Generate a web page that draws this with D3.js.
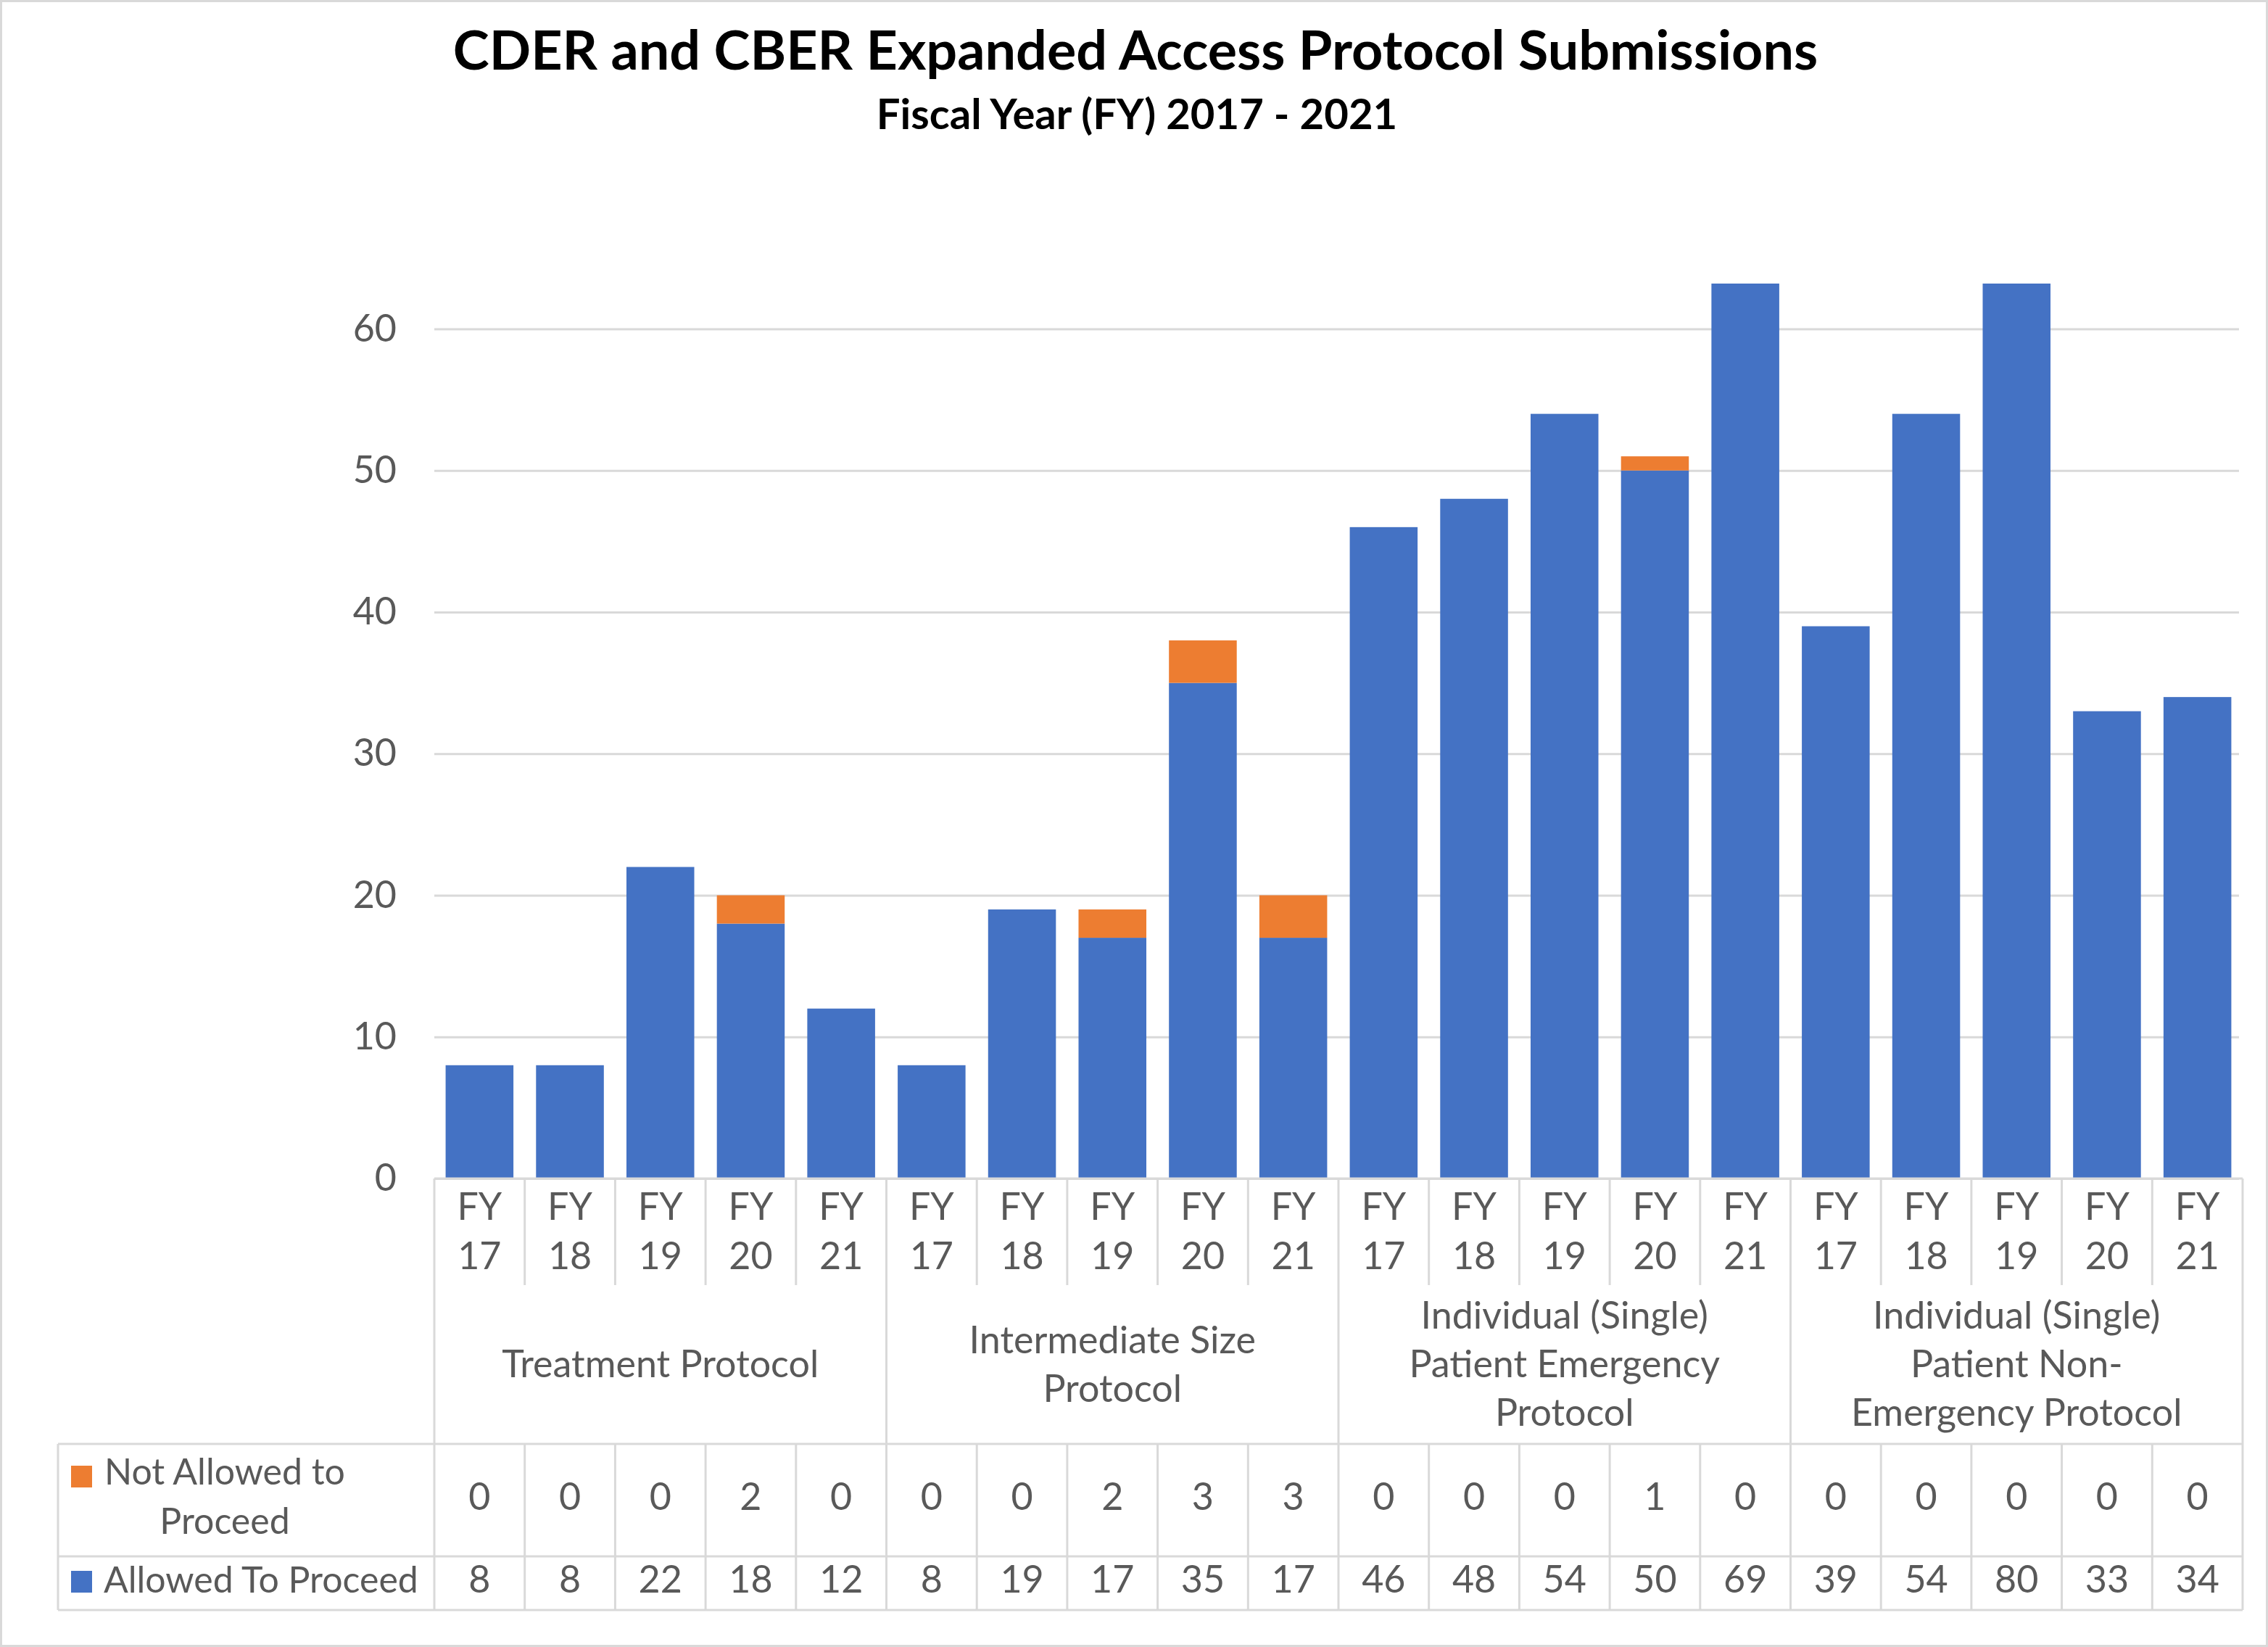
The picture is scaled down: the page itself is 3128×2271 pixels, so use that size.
<!DOCTYPE html>
<html>
<head>
<meta charset="utf-8">
<script src="https://cdn.jsdelivr.net/npm/d3@7"></script>
<style>
  body { margin: 0; background: #fff; }
  svg text { font-family: Lato, "Open Sans", sans-serif; }
</style>
</head>
<body>
<div id="chart"></div>
<script>
// data
const groups = [
    ["Treatment Protocol"],
    ["Intermediate Size", "Protocol"],
    ["Individual (Single)", "Patient Emergency", "Protocol"],
    ["Individual (Single)", "Patient Non-", "Emergency Protocol"]
];
const years = ["17", "18", "19", "20", "21"];
const allowed = [8, 8, 22, 18, 12, 8, 19, 17, 35, 17, 46, 48, 54, 50, 69, 39, 54, 80, 33, 34];
const notAllowed = [0, 0, 0, 2, 0, 0, 0, 2, 3, 3, 0, 0, 0, 1, 0, 0, 0, 0, 0, 0];
const yTicks = [0, 10, 20, 30, 40, 50, 60];
const seriesNames = ["Not Allowed to Proceed", "Allowed To Proceed"];

const W = 3128, H = 2271;
const plot = { left: 599, right: 3093, top: 391, bottom: 1625 };
const blue = "#4472C4", orange = "#ED7D31", grey = "#595959", line = "#D9D9D9";
const fs = 52;

const cats = [];
groups.forEach((g, gi) => years.forEach(y => cats.push({ g: gi, year: y })));

const x = d3.scaleBand()
    .domain(d3.range(cats.length))
    .range([plot.left, plot.right])
    .paddingInner(0.25)
    .paddingOuter(0.125);
const step = x.step();
const y = d3.scaleLinear().domain([0, 63.2]).range([plot.bottom, plot.top]);

const svg = d3.select("#chart").append("svg")
    .attr("width", W)
    .attr("height", H);

svg.append("rect")
    .attr("x", 1.5).attr("y", 1.5)
    .attr("width", W - 3).attr("height", H - 3)
    .attr("fill", "#fff")
    .attr("stroke", line)
    .attr("stroke-width", 3);

// titles
svg.append("text")
    .attr("x", 1566).attr("y", 96)
    .attr("text-anchor", "middle")
    .attr("font-weight", "bold")
    .attr("font-size", 75.5)
    .attr("fill", "#000")
    .text("CDER and CBER Expanded Access Protocol Submissions");
svg.append("text")
    .attr("x", 1568).attr("y", 178)
    .attr("text-anchor", "middle")
    .attr("font-weight", "bold")
    .attr("font-size", 58)
    .attr("fill", "#000")
    .text("Fiscal Year (FY) 2017 - 2021");

// y axis with gridlines
const yAxis = svg.append("g")
    .attr("transform", `translate(${plot.left},0)`)
    .call(d3.axisLeft(y).tickValues(yTicks).tickSize(-(3088 - plot.left)).tickPadding(52));
yAxis.select(".domain").remove();
yAxis.selectAll(".tick line").attr("stroke", line).attr("stroke-width", 3);
yAxis.selectAll(".tick text")
    .attr("fill", grey)
    .attr("font-size", fs)
    .attr("font-family", "Lato, 'Open Sans', sans-serif");

// stacked bars, clipped to the plot area
svg.append("clipPath").attr("id", "plotClip")
    .append("rect")
    .attr("x", plot.left).attr("y", plot.top)
    .attr("width", plot.right - plot.left).attr("height", plot.bottom - plot.top);

const bars = svg.append("g").attr("clip-path", "url(#plotClip)");
bars.selectAll("rect.allowed")
    .data(allowed)
    .join("rect")
    .attr("class", "allowed")
    .attr("x", (d, i) => x(i))
    .attr("width", x.bandwidth())
    .attr("y", d => y(d))
    .attr("height", d => y(0) - y(d))
    .attr("fill", blue);
bars.selectAll("rect.notallowed")
    .data(notAllowed)
    .join("rect")
    .attr("class", "notallowed")
    .attr("x", (d, i) => x(i))
    .attr("width", x.bandwidth())
    .attr("y", (d, i) => y(allowed[i] + d))
    .attr("height", (d, i) => y(allowed[i]) - y(allowed[i] + d))
    .attr("fill", orange);

// data table under the plot
const rows = { fyBottom: 1772, groupBottom: 1991, row1Bottom: 2146, tableBottom: 2220, left: 80 };
const table = svg.append("g").attr("stroke", line).attr("stroke-width", 3).attr("fill", "none");

table.append("line")
    .attr("x1", plot.left).attr("x2", plot.right)
    .attr("y1", plot.bottom).attr("y2", plot.bottom);
[rows.groupBottom, rows.row1Bottom, rows.tableBottom].forEach(yy => {
    table.append("line")
        .attr("x1", rows.left).attr("x2", plot.right)
        .attr("y1", yy).attr("y2", yy);
});
table.append("line")
    .attr("x1", rows.left).attr("x2", rows.left)
    .attr("y1", rows.groupBottom).attr("y2", rows.tableBottom);

const edges = d3.range(cats.length + 1).map(i => plot.left + i * step);
edges.forEach((ex, i) => {
    const isGroupEdge = i % years.length === 0;
    table.append("line")
        .attr("x1", ex).attr("x2", ex)
        .attr("y1", plot.bottom)
        .attr("y2", isGroupEdge ? rows.tableBottom : rows.fyBottom);
    if (!isGroupEdge) {
        table.append("line")
            .attr("x1", ex).attr("x2", ex)
            .attr("y1", rows.groupBottom).attr("y2", rows.tableBottom);
    }
});

const txt = svg.append("g")
    .attr("fill", grey)
    .attr("font-size", fs)
    .attr("text-anchor", "middle");

const cx = i => x(i) + x.bandwidth() / 2;

// FY labels
cats.forEach((c, i) => {
    txt.append("text").attr("x", cx(i)).attr("y", 1682).text("FY");
    txt.append("text").attr("x", cx(i)).attr("y", 1750).text(c.year);
});

// group labels
const lineGap = 67;
groups.forEach((g, gi) => {
    const gx = plot.left + (gi * years.length + years.length / 2) * step;
    const mid = 1899;
    g.forEach((l, li) => {
        txt.append("text")
            .attr("x", gx)
            .attr("y", mid + (li - (g.length - 1) / 2) * lineGap)
            .text(l);
    });
});

// values
notAllowed.forEach((v, i) => txt.append("text").attr("x", cx(i)).attr("y", 2082).text(v));
allowed.forEach((v, i) => txt.append("text").attr("x", cx(i)).attr("y", 2196).text(v));

// legend keys in the table
svg.append("rect").attr("x", 98).attr("y", 2021).attr("width", 29).attr("height", 30).attr("fill", orange);
svg.append("rect").attr("x", 98).attr("y", 2166).attr("width", 29).attr("height", 30).attr("fill", blue);
const legendTxt = svg.append("g").attr("fill", grey).attr("font-size", 50).attr("text-anchor", "middle");
legendTxt.append("text").attr("x", 310).attr("y", 2047).text("Not Allowed to");
legendTxt.append("text").attr("x", 310).attr("y", 2115).text("Proceed");
legendTxt.append("text").attr("x", 143).attr("y", 2196).attr("text-anchor", "start").text(seriesNames[1]);
</script>
</body>
</html>
